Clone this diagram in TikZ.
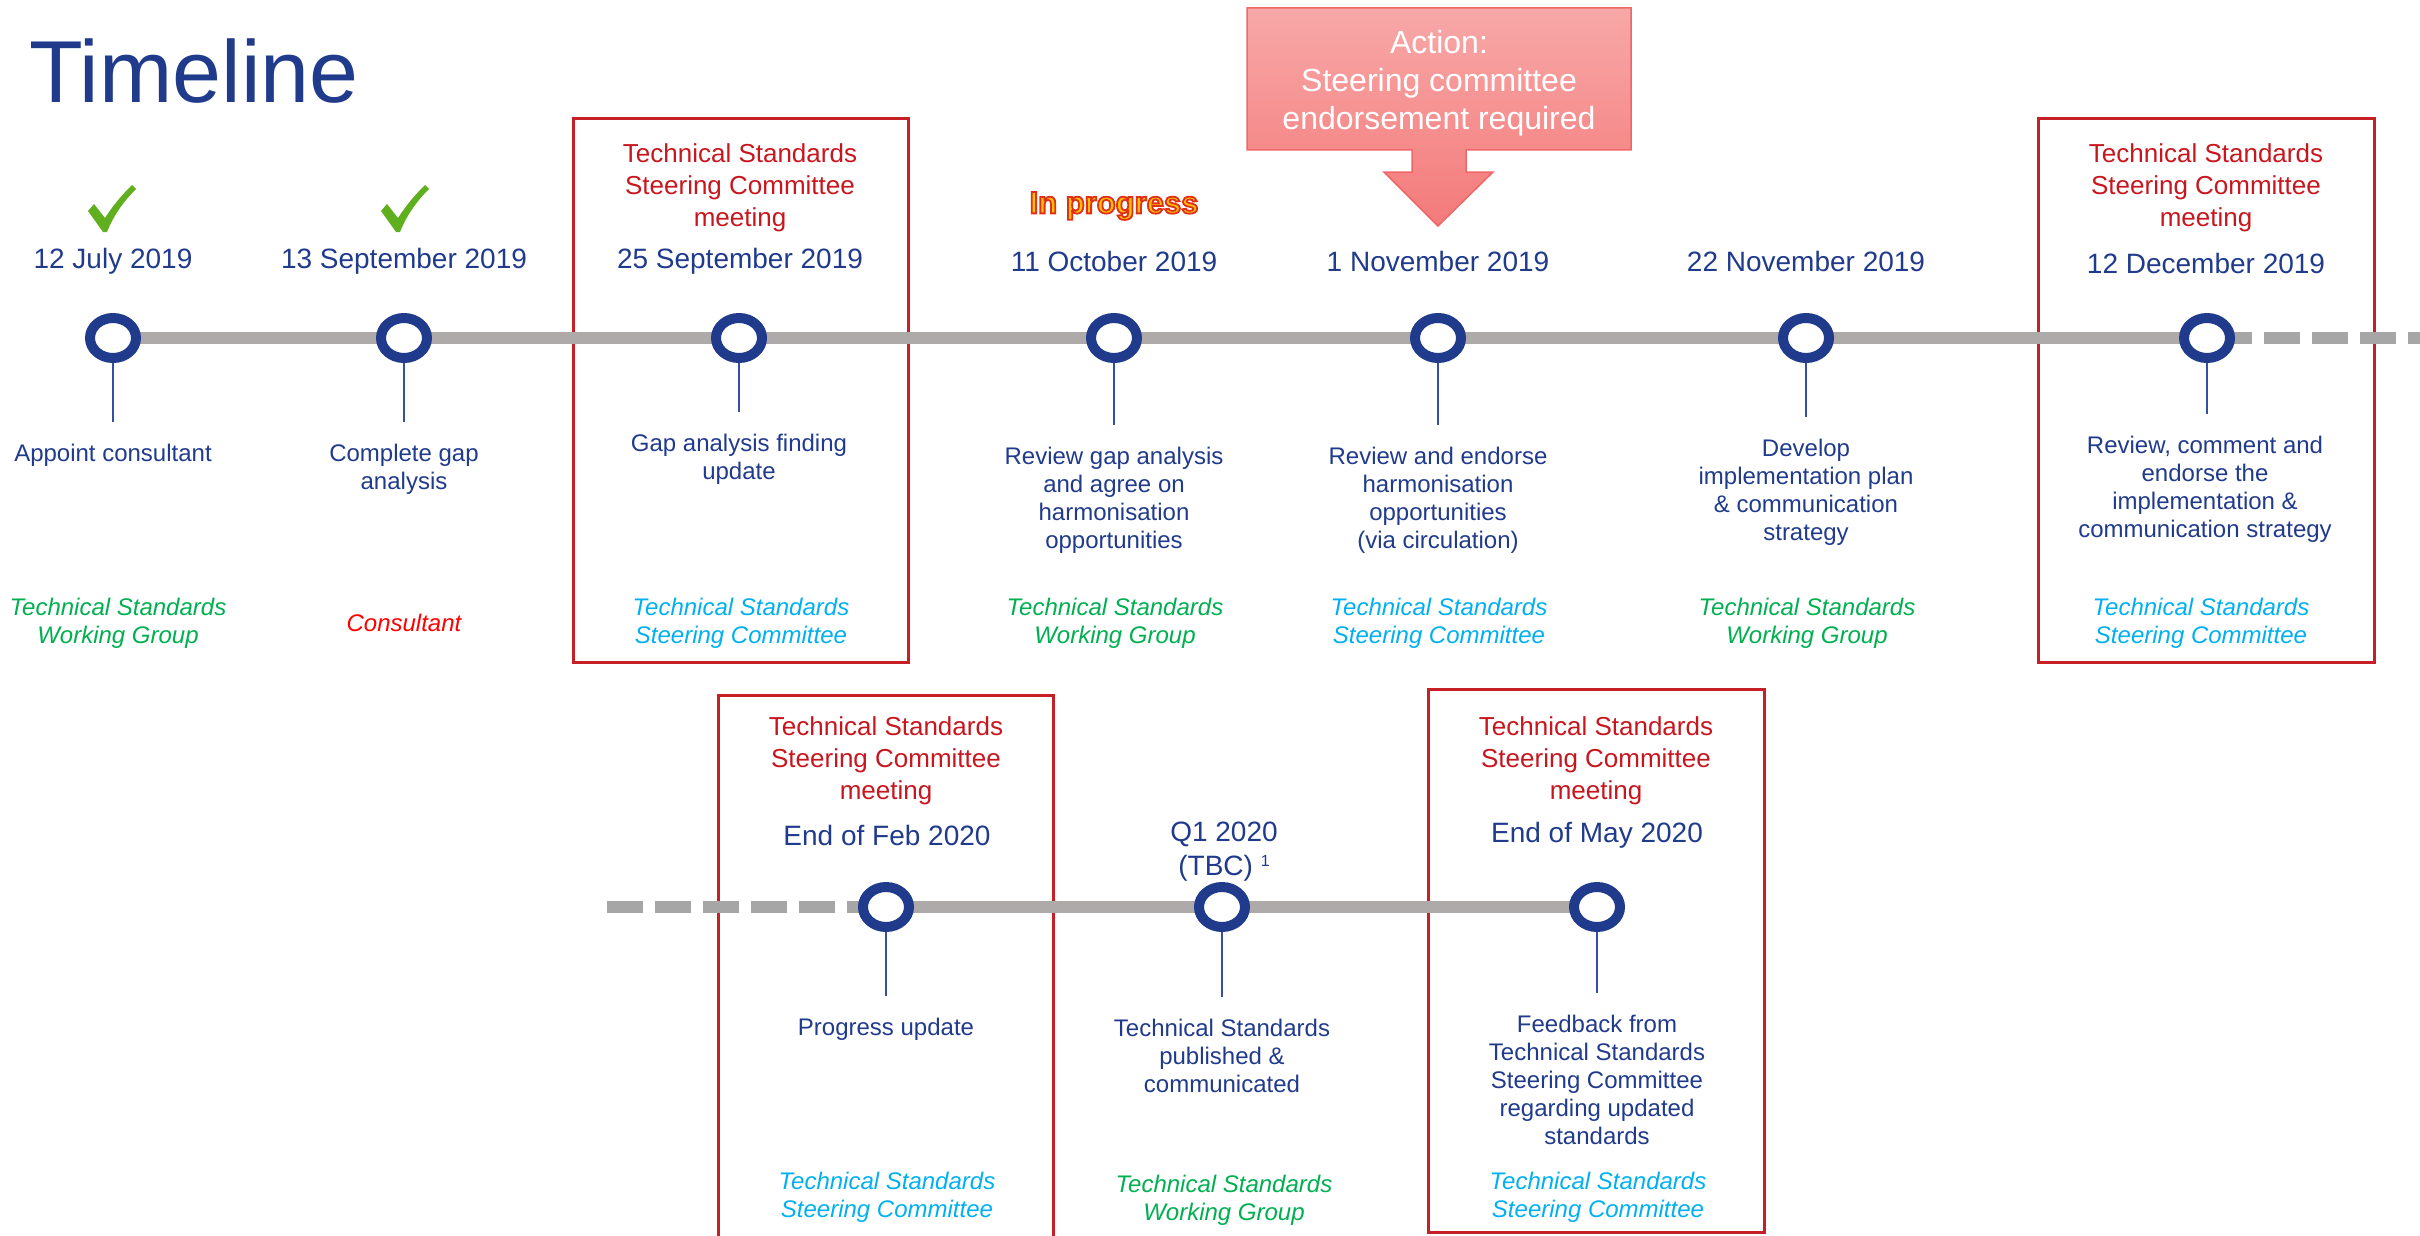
\documentclass[tikz,border=0pt]{standalone}
\usepackage{fontspec}
\setmainfont{Liberation Sans}
\usetikzlibrary{positioning,shapes.geometric}

\definecolor{navy}{HTML}{203A8C}
\definecolor{stemblue}{HTML}{3550A0}
\definecolor{meetred}{HTML}{C8161E}
\definecolor{boxred}{HTML}{C62026}
\definecolor{wggreen}{HTML}{00B050}
\definecolor{scblue}{HTML}{00B0F0}
\definecolor{consred}{HTML}{FF0000}
\definecolor{linegray}{HTML}{AEAAAA}
\definecolor{dashgray}{HTML}{A6A6A6}
\definecolor{tickgreen}{HTML}{5FAF1F}
\definecolor{acttop}{HTML}{F8A8A8}
\definecolor{actbot}{HTML}{F47A7A}
\definecolor{actedge}{HTML}{EE6666}
\definecolor{progyellow}{HTML}{FFC000}

% outlined lettering: fill with the current colour, stroke in red
\newcommand\outlined[1]{\special{pdf:literal direct 2 Tr 1.8 w 0.88 0.19 0.10 RG}#1\special{pdf:literal direct 0 Tr}}

\tikzset{
  ring/.style={ellipse, draw=navy, line width=10pt, fill=white,
    minimum width=46pt, minimum height=40pt, inner sep=0pt},
  timeline/.style={draw=linegray, line width=12pt},
  dashline/.style={draw=dashgray, line width=12pt, dash pattern=on 36pt off 12pt},
  stem/.style={draw=stemblue, line width=1.5pt},
  meetbox/.style={draw=boxred, line width=3pt},
  datelbl/.style={text=navy, font=\fontsize{28}{34}\selectfont, align=center, yshift=-2pt},
  meetlbl/.style={text=meetred, font=\fontsize{26}{32}\selectfont, align=center, yshift=-3pt},
  desc/.style={text=navy, font=\fontsize{24}{28}\selectfont, align=center,
    inner sep=4pt, outer sep=18pt, yshift=-3pt},
  whoWG/.style={text=wggreen, font=\fontsize{24}{28}\selectfont\itshape, align=center, yshift=-3pt},
  whoSC/.style={text=scblue, font=\fontsize{24}{28}\selectfont\itshape, align=center, yshift=-3pt},
  whoCons/.style={text=consred, font=\fontsize{24}{28}\selectfont\itshape, align=center, yshift=-3pt},
  progtext/.style={font=\fontsize{31}{34}\selectfont\bfseries, inner sep=0pt},
  donemark/.pic={
    \fill[tickgreen] (-24,2) -- (-18,-5) -- (-7,9)
      .. controls (2,-5) and (10,-14) .. (20,-24) -- (24,-20)
      .. controls (10,-6) and (1,8) .. (-5,23) -- (-9,23) -- cycle;
  }
}

\begin{document}
\begin{tikzpicture}[x=1pt,y=-1pt]
    \useasboundingbox (0,0) rectangle (2420,1236);

    \node[anchor=base west, inner sep=0pt, text=navy, font=\fontsize{88}{92}\selectfont] (title) at (29,103) {Timeline};

    % meeting frames
    \draw[meetbox] (573,119) rectangle (908,662);
    \draw[meetbox] (2038,119) rectangle (2374,662);
    \draw[meetbox] (718,695) rectangle (1053,1250);
    \draw[meetbox] (1428,689) rectangle (1764,1232);

    % action call-out
    \draw[draw=actedge, line width=1.5pt, top color=acttop, bottom color=actbot]
        (1247,8) -- (1631,8) -- (1631,150) -- (1466,150) -- (1466,172) -- (1493,172)
        -- (1438,226) -- (1384,172) -- (1412,172) -- (1412,150) -- (1247,150) -- cycle;
    \node[text=white, font=\fontsize{32}{38}\selectfont, align=center] (action) at (1439,83) {Action:\\Steering committee\\endorsement required};

    % timeline bars
    \coordinate (p1) at (113,338);
    \coordinate (p2) at (404,338);
    \coordinate (p3) at (739,338);
    \coordinate (p4) at (1114,338);
    \coordinate (p5) at (1438,338);
    \coordinate (p6) at (1806,338);
    \coordinate (p7) at (2207,338);
    \coordinate (topend) at (2420,338);
    \coordinate (botstart) at (607,907);
    \coordinate (q1) at (886,907);
    \coordinate (q2) at (1222,907);
    \coordinate (q3) at (1597,907);
    \draw[timeline] (p1) -- (p7);
    \draw[dashline, dash phase=39pt] (p7) -- (topend);
    \draw[dashline] (botstart) -- (q1);
    \draw[timeline] (q1) -- (q3);

    \node[ring] (t1) at (p1) {};
    \node[ring] (t2) at (p2) {};
    \node[ring] (t3) at (p3) {};
    \node[ring] (t4) at (p4) {};
    \node[ring] (t5) at (p5) {};
    \node[ring] (t6) at (p6) {};
    \node[ring] (t7) at (p7) {};
    \node[ring] (b1) at (q1) {};
    \node[ring] (b2) at (q2) {};
    \node[ring] (b3) at (q3) {};

    % status marks
    \pic at (112,209) {donemark};
    \pic at (405,209) {donemark};
    \node[progtext, text=progyellow] (inprog) at (1114,206) {\outlined{In progress}};

    % meeting headings
    \node[meetlbl] (m1) at (740,185) {Technical Standards\\Steering Committee\\meeting};
    \node[meetlbl] (m2) at (2206,185) {Technical Standards\\Steering Committee\\meeting};
    \node[meetlbl] (m3) at (886,758) {Technical Standards\\Steering Committee\\meeting};
    \node[meetlbl] (m4) at (1596,758) {Technical Standards\\Steering Committee\\meeting};

    % dates
    \node[datelbl] (dt1) at (113,259) {12 July 2019};
    \node[datelbl] (dt2) at (404,259) {13 September 2019};
    \node[datelbl] (dt3) at (740,259) {25 September 2019};
    \node[datelbl] (dt4) at (1114,259) {11 October 2019};
    \node[datelbl] (dt5) at (1438,259) {1 November 2019};
    \node[datelbl] (dt6) at (1806,259) {22 November 2019};
    \node[datelbl] (dt7) at (2206,261) {12 December 2019};
    \node[datelbl] (db1) at (887,833) {End of Feb 2020};
    \node[datelbl] (db2) at (1224,850) {Q1 2020\\(TBC) {\fontsize{16}{16}\selectfont\raisebox{9pt}{1}}};
    \node[datelbl] (db3) at (1597,833) {End of May 2020};

    % descriptions
    \node[desc] (d1) at (113,452) {Appoint consultant};
    \node[desc] (d2) at (404,466) {Complete gap\\analysis};
    \node[desc] (d3) at (739,456) {Gap analysis finding\\update};
    \node[desc] (d4) at (1114,497) {Review gap analysis\\and agree on\\harmonisation\\opportunities};
    \node[desc] (d5) at (1438,497) {Review and endorse\\harmonisation\\opportunities\\(via circulation)};
    \node[desc] (d6) at (1806,489) {Develop\\implementation plan\\\& communication\\strategy};
    \node[desc] (d7) at (2205,486) {Review, comment and\\endorse the\\implementation \&\\communication strategy};
    \node[desc] (e1) at (886,1026) {Progress update};
    \node[desc] (e2) at (1222,1053) {Technical Standards\\published \&\\communicated};
    \node[desc] (e3) at (1597,1077) {Feedback from\\Technical Standards\\Steering Committee\\regarding updated\\standards};

    \draw[stem] (t1.south) -- (t1.south |- d1.north);
    \draw[stem] (t2.south) -- (t2.south |- d2.north);
    \draw[stem] (t3.south) -- (t3.south |- d3.north);
    \draw[stem] (t4.south) -- (t4.south |- d4.north);
    \draw[stem] (t5.south) -- (t5.south |- d5.north);
    \draw[stem] (t6.south) -- (t6.south |- d6.north);
    \draw[stem] (t7.south) -- (t7.south |- d7.north);
    \draw[stem] (b1.south) -- (b1.south |- e1.north);
    \draw[stem] (b2.south) -- (b2.south |- e2.north);
    \draw[stem] (b3.south) -- (b3.south |- e3.north);

    % who is responsible
    \node[whoWG] (r1) at (118,620) {Technical Standards\\Working Group};
    \node[whoCons] (r2) at (404,620) {Consultant};
    \node[whoSC] (r3) at (741,620) {Technical Standards\\Steering Committee};
    \node[whoWG] (r4) at (1115,620) {Technical Standards\\Working Group};
    \node[whoSC] (r5) at (1439,620) {Technical Standards\\Steering Committee};
    \node[whoWG] (r6) at (1807,620) {Technical Standards\\Working Group};
    \node[whoSC] (r7) at (2201,620) {Technical Standards\\Steering Committee};
    \node[whoSC] (s1) at (887,1194) {Technical Standards\\Steering Committee};
    \node[whoWG] (s2) at (1224,1197) {Technical Standards\\Working Group};
    \node[whoSC] (s3) at (1598,1194) {Technical Standards\\Steering Committee};
\end{tikzpicture}
\end{document}
